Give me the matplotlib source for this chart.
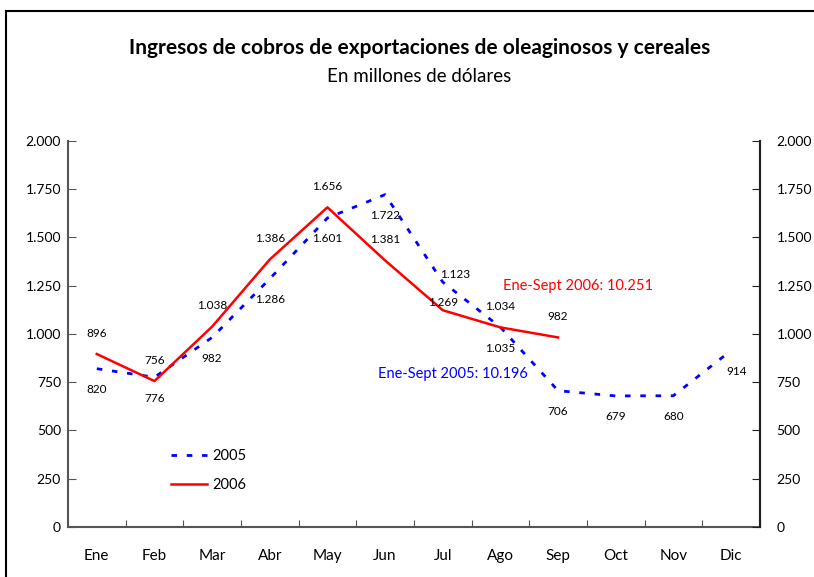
import numpy as np
import matplotlib.pyplot as plt
from matplotlib.patches import Rectangle
from matplotlib.lines import Line2D

plt.rcParams['font.family'] = ['Lato', 'DejaVu Sans']

meses = ['Ene', 'Feb', 'Mar', 'Abr', 'May', 'Jun', 'Jul', 'Ago', 'Sep', 'Oct', 'Nov', 'Dic']
v2005 = [820, 776, 982, 1286, 1601, 1722, 1269, 1035, 706, 679, 680, 914]
v2006 = [896, 756, 1038, 1386, 1656, 1381, 1123, 1034, 982]
yticks = [0, 250, 500, 750, 1000, 1250, 1500, 1750, 2000]


def fmt(v):
    return '{:,}'.format(v).replace(',', '.')


fig = plt.figure(figsize=(8.14, 5.77), dpi=100)
ax = fig.add_axes([0.0835, 0.0867, 0.85, 0.669])

x05 = np.arange(len(v2005))
x06 = np.arange(len(v2006))
ax.plot(x05, v2005, color='blue', lw=2, linestyle=(0, (2, 3.5)), label='2005')
ax.plot(x06, v2006, color='red', lw=1.8, label='2006')

ax.set_xlim(-0.5, 11.5)
ax.set_ylim(0, 2000)
ax.set_xticks(np.arange(-0.5, 12, 1))
ax.set_xticklabels([])
ax.set_xticks(x05, minor=True)
ax.set_xticklabels(meses, minor=True)
ax.tick_params(axis='x', which='major', direction='in', length=5, color='#555555')
ax.tick_params(axis='x', which='minor', length=0, pad=16, labelsize=11)
ax.set_yticks(yticks)
ax.set_yticklabels([fmt(t) for t in yticks])
ax.tick_params(axis='y', direction='in', length=6, color='#555555', labelsize=10, pad=5)
for s in ['left', 'bottom', 'right']:
    ax.spines[s].set_color('#555555')
    ax.spines[s].set_linewidth(1.5)
ax.spines['top'].set_visible(False)

ax2 = ax.twinx()
ax2.set_ylim(0, 2000)
ax2.set_yticks(yticks)
ax2.set_yticklabels([fmt(t) for t in yticks])
ax2.tick_params(axis='y', direction='in', length=6, color='#222222', labelsize=10, pad=12)
ax2.spines['right'].set_color('#222222')
ax2.spines['right'].set_linewidth(1.5)
for s in ['left', 'top', 'bottom']:
    ax2.spines[s].set_visible(False)

# etiquetas de datos
for i, v in enumerate(v2005):
    dx = 4 if i == 11 else 0
    ax.annotate(fmt(v), (i, v), xytext=(dx, -15), textcoords='offset points',
                ha='center', va='center', fontsize=8.5)
for i, v in enumerate(v2006):
    dx, dy = (9, 26) if i == 6 else (0, 15)
    ax.annotate(fmt(v), (i, v), xytext=(dx, dy), textcoords='offset points',
                ha='center', va='center', fontsize=8.5)

ax.text(7.05, 1250, 'Ene-Sept 2006: 10.251', color='red', fontsize=10.5, va='center')
ax.text(4.87, 790, 'Ene-Sept 2005: 10.196', color='blue', fontsize=10.5, va='center')

handles = [Line2D([], [], color='blue', lw=2, linestyle=(0, (2, 3.5))),
           Line2D([], [], color='red', lw=1.8)]
ax.legend(handles, ['2005', '2006'], loc='upper left', bbox_to_anchor=(0.13, 0.235),
          frameon=False, fontsize=10.5, handlelength=2.5, handletextpad=0.3, labelspacing=1.0)

fig.text(0.515, 0.917, 'Ingresos de cobros de exportaciones de oleaginosos y cereales',
         ha='center', va='center', fontsize=15, fontweight='bold')
fig.text(0.515, 0.868, 'En millones de dólares', ha='center', va='center', fontsize=13.5)

fig.patches.append(Rectangle((6 / 814, -0.05), 1.1, 1 - 11 / 577 + 0.05, transform=fig.transFigure,
                             fill=False, edgecolor='black', lw=1.5))

fig.savefig('out.png', dpi=100)
